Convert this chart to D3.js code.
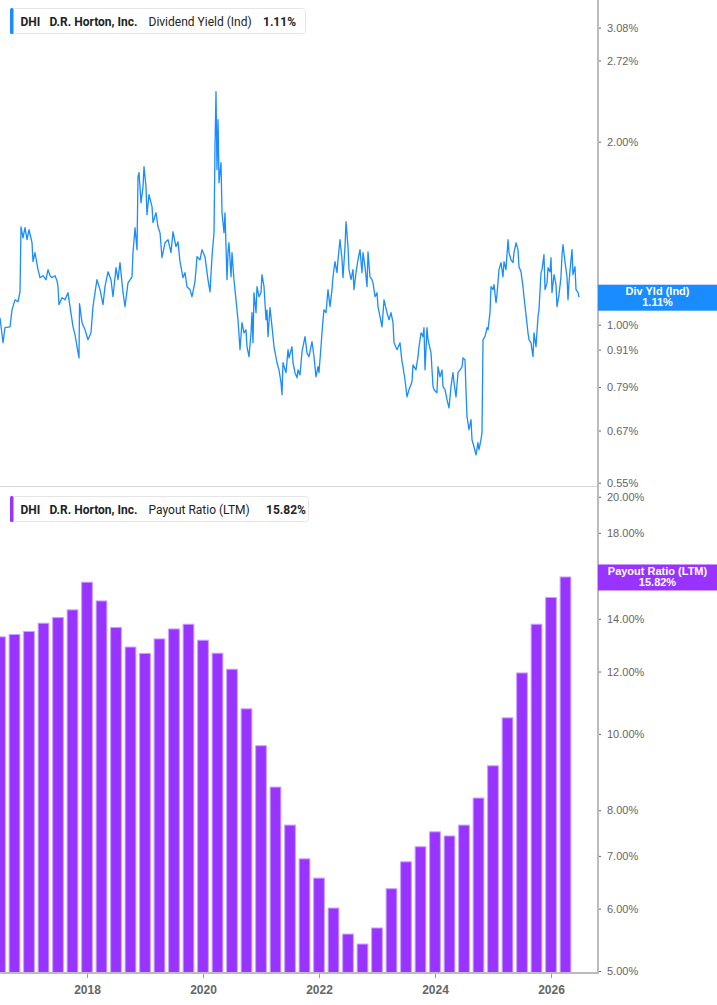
<!DOCTYPE html>
<html lang="en">
<head>
<meta charset="UTF-8">
<title>DHI Dividend Yield and Payout Ratio</title>
<script src="https://cdn.jsdelivr.net/npm/d3@7"></script>
<style>
  body { margin: 0; background: #fff; }
  svg { display: block; }
</style>
</head>
<body>
<svg id="chart" width="717" height="1005"></svg>
<script>
// ---- data ----
// dividend yield (%), [decimal year, value]
const divYield = [
  [2016.500,1.027],[2016.552,0.934],[2016.586,0.989],[2016.672,0.992],[2016.707,1.058],[2016.759,1.099],
  [2016.810,1.091],[2016.845,1.133],[2016.862,1.449],[2016.897,1.390],[2016.931,1.444],[2016.966,1.380],
  [2017.000,1.433],[2017.052,1.364],[2017.069,1.270],[2017.103,1.314],[2017.155,1.232],[2017.190,1.195],
  [2017.241,1.204],[2017.293,1.186],[2017.328,1.232],[2017.362,1.204],[2017.397,1.195],[2017.448,1.204],
  [2017.483,1.181],[2017.500,1.155],[2017.517,1.079],[2017.569,1.108],[2017.621,1.099],[2017.672,1.129],
  [2017.707,1.071],[2017.759,0.992],[2017.793,0.963],[2017.828,0.920],[2017.862,0.882],[2017.871,1.083],
  [2017.914,1.008],[2017.966,0.981],[2018.017,0.945],[2018.069,0.970],[2018.103,1.071],[2018.138,1.129],
  [2018.172,1.186],[2018.224,1.142],[2018.276,1.079],[2018.310,1.155],[2018.362,1.222],[2018.414,1.186],
  [2018.448,1.112],[2018.500,1.241],[2018.534,1.186],[2018.569,1.265],[2018.621,1.129],[2018.655,1.071],
  [2018.707,1.172],[2018.776,1.199],[2018.793,1.314],[2018.828,1.444],[2018.862,1.329],[2018.879,1.752],
  [2018.897,1.779],[2018.931,1.587],[2018.966,1.687],[2018.983,1.819],[2019.017,1.687],[2019.034,1.517],
  [2019.069,1.636],[2019.121,1.564],[2019.138,1.472],[2019.190,1.528],[2019.224,1.449],[2019.259,1.417],
  [2019.293,1.289],[2019.345,1.364],[2019.397,1.380],[2019.448,1.314],[2019.483,1.422],[2019.534,1.344],
  [2019.569,1.369],[2019.603,1.270],[2019.655,1.195],[2019.690,1.218],[2019.724,1.155],[2019.776,1.142],
  [2019.810,1.112],[2019.862,1.177],[2019.897,1.294],[2019.948,1.279],[2019.983,1.329],[2020.034,1.294],
  [2020.086,1.186],[2020.121,1.133],[2020.155,1.294],[2020.190,1.417],[2020.207,1.963],[2020.224,2.417],
  [2020.241,1.799],[2020.259,2.174],[2020.276,1.712],[2020.310,1.847],[2020.328,1.528],[2020.362,1.417],
  [2020.379,1.528],[2020.414,1.186],[2020.431,1.314],[2020.448,1.364],[2020.483,1.199],[2020.500,1.314],
  [2020.534,1.186],[2020.569,1.099],[2020.603,1.019],[2020.638,0.910],[2020.672,1.008],[2020.707,0.970],
  [2020.741,0.981],[2020.759,0.920],[2020.793,0.886],[2020.828,0.970],[2020.845,1.047],[2020.862,0.934],
  [2020.879,1.129],[2020.914,1.047],[2020.931,1.155],[2020.966,1.112],[2021.000,1.129],[2021.017,1.209],
  [2021.052,1.155],[2021.086,1.019],[2021.103,1.058],[2021.121,0.956],[2021.155,1.067],[2021.190,0.992],
  [2021.224,0.920],[2021.276,0.866],[2021.310,0.843],[2021.345,0.803],[2021.362,0.767],[2021.379,0.866],
  [2021.431,0.834],[2021.466,0.910],[2021.483,0.882],[2021.534,0.920],[2021.552,0.866],[2021.586,0.834],
  [2021.621,0.818],[2021.638,0.843],[2021.672,0.827],[2021.707,0.903],[2021.759,0.956],[2021.793,0.899],
  [2021.828,0.886],[2021.879,0.938],[2021.914,0.886],[2021.948,0.821],[2021.983,0.853],[2022.000,0.834],
  [2022.034,0.920],[2022.069,1.019],[2022.086,1.058],[2022.121,1.047],[2022.155,1.142],[2022.190,1.071],
  [2022.224,1.142],[2022.241,1.199],[2022.276,1.270],[2022.310,1.218],[2022.328,1.279],[2022.362,1.380],
  [2022.397,1.279],[2022.414,1.195],[2022.448,1.344],[2022.466,1.477],[2022.500,1.344],[2022.517,1.232],
  [2022.552,1.186],[2022.586,1.232],[2022.603,1.142],[2022.638,1.218],[2022.672,1.279],[2022.707,1.329],
  [2022.741,1.218],[2022.759,1.314],[2022.793,1.246],[2022.828,1.155],[2022.845,1.318],[2022.879,1.199],
  [2022.914,1.186],[2022.931,1.172],[2022.966,1.112],[2023.000,1.129],[2023.017,1.071],[2023.052,1.031],
  [2023.086,0.992],[2023.121,1.099],[2023.172,1.047],[2023.207,1.019],[2023.241,1.047],[2023.276,1.008],
  [2023.293,0.934],[2023.345,0.910],[2023.397,0.934],[2023.431,0.869],[2023.448,0.853],[2023.483,0.812],
  [2023.517,0.761],[2023.552,0.782],[2023.603,0.806],[2023.621,0.859],[2023.672,0.843],[2023.707,0.886],
  [2023.724,0.920],[2023.759,0.970],[2023.793,0.956],[2023.810,0.989],[2023.828,0.843],[2023.862,0.989],
  [2023.879,0.945],[2023.931,0.899],[2023.966,0.791],[2023.983,0.782],[2024.034,0.773],[2024.052,0.853],
  [2024.086,0.821],[2024.121,0.843],[2024.138,0.791],[2024.172,0.782],[2024.207,0.753],[2024.241,0.730],
  [2024.276,0.791],[2024.310,0.834],[2024.328,0.803],[2024.362,0.761],[2024.397,0.834],[2024.431,0.843],
  [2024.466,0.853],[2024.483,0.882],[2024.517,0.876],[2024.534,0.782],[2024.552,0.706],[2024.586,0.672],
  [2024.621,0.698],[2024.638,0.647],[2024.672,0.630],[2024.707,0.611],[2024.741,0.640],[2024.759,0.623],
  [2024.793,0.647],[2024.810,0.664],[2024.828,0.945],[2024.862,0.956],[2024.897,0.989],[2024.914,0.981],
  [2024.948,1.047],[2024.966,1.155],[2025.000,1.142],[2025.017,1.164],[2025.052,1.087],[2025.069,1.120],
  [2025.103,1.232],[2025.138,1.265],[2025.172,1.199],[2025.190,1.270],[2025.224,1.232],[2025.259,1.380],
  [2025.276,1.314],[2025.310,1.279],[2025.345,1.265],[2025.362,1.314],[2025.397,1.364],[2025.431,1.329],
  [2025.448,1.246],[2025.483,1.222],[2025.517,1.155],[2025.534,1.112],[2025.569,1.039],[2025.603,0.970],
  [2025.621,0.945],[2025.655,0.934],[2025.690,0.886],[2025.707,0.970],[2025.741,0.920],[2025.776,1.031],
  [2025.793,1.058],[2025.828,1.218],[2025.845,1.232],[2025.879,1.304],[2025.897,1.142],[2025.931,1.172],
  [2025.948,1.241],[2025.983,1.222],[2026.000,1.289],[2026.017,1.129],[2026.052,1.209],[2026.086,1.164],
  [2026.103,1.071],[2026.138,1.120],[2026.172,1.199],[2026.190,1.304],[2026.207,1.354],[2026.241,1.270],
  [2026.276,1.199],[2026.293,1.099],[2026.310,1.172],[2026.345,1.279],[2026.362,1.329],[2026.379,1.209],
  [2026.414,1.246],[2026.431,1.142],[2026.466,1.129],[2026.483,1.110]
];

// payout ratio (LTM, %), one bar per quarter starting mid-2016
const payoutStart = 2016.5;
const payoutRatio = [
  13.28, 13.37, 13.49, 13.82, 14.05, 14.37, 15.58, 14.75, 13.65, 12.89,
  12.65, 13.20, 13.59, 13.78, 13.15, 12.66, 12.08, 10.76, 9.66, 8.56,
  7.66, 6.94, 6.56, 6.01, 5.57, 5.41, 5.67, 6.36, 6.88, 7.19,
  7.51, 7.42, 7.66, 8.29, 9.11, 10.48, 11.95, 13.78, 14.90, 15.82
];
const payoutYears = payoutRatio.map((d, i) => payoutStart + i * 0.25);

const yieldTicks = [0.55, 0.67, 0.79, 0.91, 1.00, 2.00, 2.72, 3.08];
const payoutTicks = [5, 6, 7, 8, 10, 12, 14, 18, 20];
const yearTicks = [2018, 2020, 2022, 2024, 2026];

const yieldLast = 1.11;
const payoutLast = 15.82;

// ---- layout ----
const W = 717;
const axisX = 598;
const topH = 487;
const botTop = 490, botBottom = 971, baseY = 973;

const blue = '#1a8cff';
const purple = '#9933ff';

const svg = d3.select('#chart');

const x = d3.scaleLinear().domain([2018, 2026]).range([87, 551]);
const yTop = d3.scaleLog().domain([0.541, 3.42]).range([topH, 0]);
const yBot = d3.scaleLog().domain([5, 20.4]).range([botBottom, botTop]);

svg.append('defs').append('clipPath').attr('id', 'plot')
  .append('rect').attr('x', 0).attr('y', 0).attr('width', axisX).attr('height', 1005);

// panel separator
svg.append('line')
  .attr('x1', 0).attr('x2', axisX).attr('y1', topH - 0.5).attr('y2', topH - 0.5)
  .attr('stroke', '#d6d6d6');

// ---- top: dividend yield line ----
const line = d3.line()
  .x(d => x(d[0]))
  .y(d => yTop(d[1]));

svg.append('g').attr('clip-path', 'url(#plot)')
  .append('path')
  .datum(divYield)
  .attr('fill', 'none')
  .attr('stroke', blue)
  .attr('stroke-width', 1.3)
  .attr('stroke-linejoin', 'round')
  .attr('d', line);

// ---- bottom: payout ratio bars ----
const step = x(2018.25) - x(2018);
const bw = step * 0.74;

svg.append('g').attr('clip-path', 'url(#plot)')
  .selectAll('rect')
  .data(payoutRatio)
  .join('rect')
  .attr('x', (d, i) => x(payoutYears[i]) - bw / 2)
  .attr('y', d => yBot(d))
  .attr('width', bw)
  .attr('height', d => baseY - yBot(d))
  .attr('fill', purple)
  .attr('stroke', '#c9a2ff')
  .attr('stroke-width', 1);

// ---- axes ----
const fmtPct = d => d.toFixed(2) + '%';

function styleRight(g) {
  g.select('.domain').remove();
  g.selectAll('.tick line').attr('stroke', '#666');
  g.selectAll('.tick text')
    .attr('fill', '#666')
    .style('font', '11px "Liberation Sans", Arial, sans-serif');
}

svg.append('g')
  .attr('transform', `translate(${axisX},0)`)
  .call(d3.axisRight(yTop).tickValues(yieldTicks).tickFormat(fmtPct).tickSize(3).tickPadding(6))
  .call(styleRight);

svg.append('g')
  .attr('transform', `translate(${axisX},0)`)
  .call(d3.axisRight(yBot).tickValues(payoutTicks).tickFormat(fmtPct).tickSize(3).tickPadding(6))
  .call(styleRight);

svg.append('g')
  .attr('transform', `translate(0,${baseY})`)
  .call(d3.axisBottom(x).tickValues(yearTicks).tickFormat(d3.format('d')).tickSize(5).tickPadding(7))
  .call(g => {
    g.select('.domain').remove();
    g.selectAll('.tick line').attr('stroke', '#999');
    g.selectAll('.tick text')
      .attr('fill', '#666')
      .style('font', 'bold 12px "Liberation Sans", Arial, sans-serif');
  });

// axis lines
svg.append('line')
  .attr('x1', 0).attr('x2', axisX + 1).attr('y1', baseY).attr('y2', baseY)
  .attr('stroke', '#bbb').attr('stroke-width', 2);
svg.append('line')
  .attr('x1', axisX).attr('x2', axisX).attr('y1', 0).attr('y2', baseY + 1)
  .attr('stroke', '#bbb').attr('stroke-width', 2);

// ---- last value tags ----
function tag(yc, color, title, value) {
  const g = svg.append('g');
  g.append('rect')
    .attr('x', axisX).attr('y', yc - 12.5)
    .attr('width', W - axisX).attr('height', 26)
    .attr('fill', color);
  g.selectAll('text')
    .data([title, value])
    .join('text')
    .attr('x', (axisX + W) / 2)
    .attr('y', (d, i) => yc - 2 + i * 11)
    .attr('text-anchor', 'middle')
    .attr('fill', '#fff')
    .style('font', 'bold 11px "Liberation Sans", Arial, sans-serif')
    .text(d => d);
}
tag(yTop(yieldLast), blue, 'Div Yld (Ind)', yieldLast.toFixed(2) + '%');
tag(yBot(payoutLast), purple, 'Payout Ratio (LTM)', payoutLast.toFixed(2) + '%');

// ---- legends ----
function legend(y0, w, color, metric, value) {
  const g = svg.append('g').attr('transform', `translate(10,${y0})`);
  g.append('rect')
    .attr('x', 0.5).attr('y', 0.5).attr('width', w).attr('height', 25)
    .attr('rx', 3).attr('fill', '#fff').attr('stroke', '#e6e6e6');
  g.append('rect')
    .attr('x', 0).attr('y', 0).attr('width', 3.5).attr('height', 26)
    .attr('rx', 1.5).attr('fill', color);
  const parts = [
    { t: 'DHI', x: 10.5, b: true },
    { t: 'D.R. Horton, Inc.', x: 39.5, b: true },
    { t: metric, x: 138.5, b: false },
    { t: value, x: w - 42, b: true }
  ];
  g.selectAll('text')
    .data(parts)
    .join('text')
    .attr('x', d => d.x)
    .attr('y', 17.5)
    .attr('fill', '#222')
    .style('font', d => `${d.b ? 'bold' : 'normal'} 12px Roboto, "Liberation Sans", sans-serif`)
    .text(d => d.t);
}
legend(8, 295, blue, 'Dividend Yield (Ind)', yieldLast.toFixed(2) + '%');
legend(496, 298, purple, 'Payout Ratio (LTM)', payoutLast.toFixed(2) + '%');
</script>
</body>
</html>
